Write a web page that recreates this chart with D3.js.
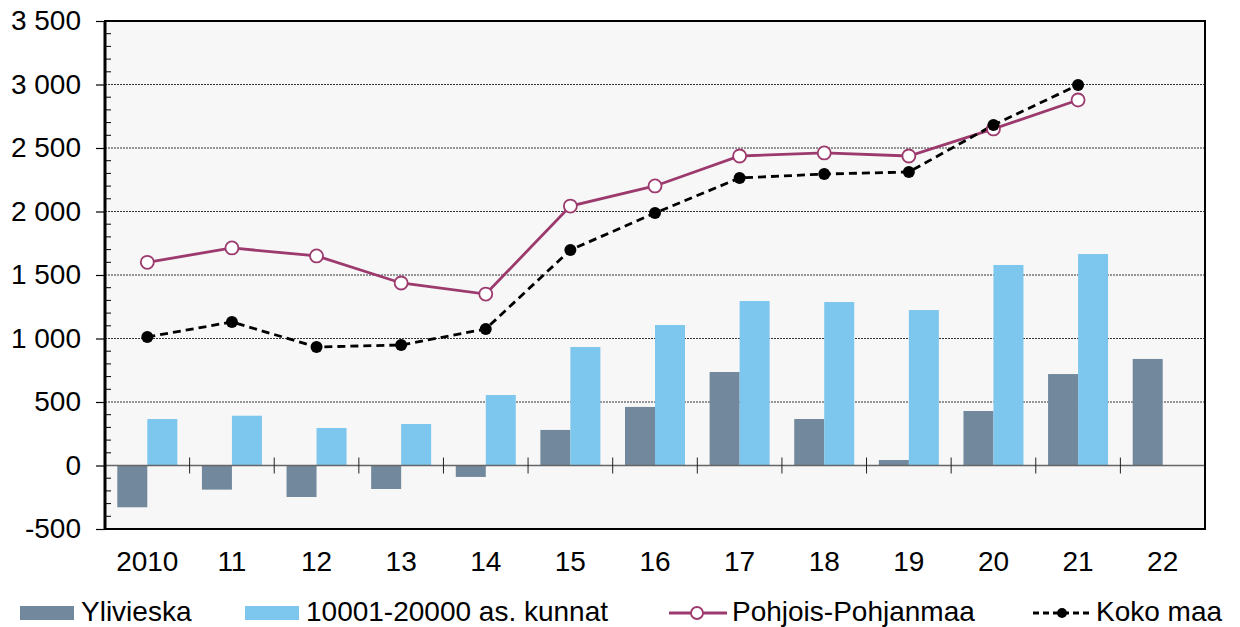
<!DOCTYPE html>
<meta charset="utf-8">
<style>
body { margin: 0; background: #fff; }
text { font-family: "Liberation Sans", Arial, sans-serif; fill: #000; }
</style>
<svg width="1240" height="627"></svg>
<script src="https://cdn.jsdelivr.net/npm/d3@7"></script>
<script>

var years = ["2010", "11", "12", "13", "14", "15", "16", "17", "18", "19", "20", "21", "22"];
var ylivieska = [-329, -190, -248, -185, -90, 280, 461, 736, 366, 43, 429, 720, 839];
var kunnat = [366, 392, 295, 327, 555, 933, 1106, 1295, 1287, 1224, 1579, 1665, null];
var pohjois = [1600, 1713, 1650, 1437, 1350, 2043, 2201, 2437, 2461, 2437, 2650, 2878, null];
var kokomaa = [1012, 1130, 933, 949, 1075, 1697, 1988, 2264, 2295, 2311, 2681, 2996, null];
var yTicks = [-500, 0, 500, 1000, 1500, 2000, 2500, 3000, 3500];

var svg = d3.select("svg");
var pLeft = 105, pRight = 1205, pTop = 21, pBottom = 529;
var fontSize = "28px";

var x = d3.scaleBand().domain(years).range([pLeft, pRight]);
var y = d3.scaleLinear().domain([-500, 3500]).range([pBottom, pTop]);
var fmt = d => d3.format(",")(d).replace(/,/g, " ").replace("\u2212", "-");

// plot background
svg.append("rect")
    .attr("x", pLeft).attr("y", pTop)
    .attr("width", pRight - pLeft).attr("height", pBottom - pTop)
    .attr("fill", "#f7f7f7");

// grid
svg.append("g").selectAll("line")
    .data(yTicks.filter(d => d > -500 && d < 3500 && d != 0))
    .enter().append("line")
      .attr("x1", pLeft).attr("x2", pRight)
      .attr("y1", d => y(d)).attr("y2", d => y(d))
      .attr("stroke", "#333").attr("stroke-width", 1)
      .attr("stroke-dasharray", "2,1");

// bars
var bw = 30;
svg.append("g").selectAll("rect")
    .data(ylivieska)
    .enter().append("rect")
      .attr("x", (d, i) => x(years[i]) + x.bandwidth() / 2 - bw)
      .attr("width", bw)
      .attr("y", d => y(Math.max(0, d)))
      .attr("height", d => Math.abs(y(d) - y(0)))
      .attr("fill", "#72889c");

svg.append("g").selectAll("rect")
    .data(kunnat.map((v, i) => ({v: v, i: i})).filter(d => d.v != null))
    .enter().append("rect")
      .attr("x", d => x(years[d.i]) + x.bandwidth() / 2)
      .attr("width", bw)
      .attr("y", d => y(Math.max(0, d.v)))
      .attr("height", d => Math.abs(y(d.v) - y(0)))
      .attr("fill", "#7dc6ee");

// zero line + category ticks
svg.append("line")
    .attr("x1", pLeft).attr("x2", pRight)
    .attr("y1", y(0)).attr("y2", y(0))
    .attr("stroke", "#666").attr("stroke-width", 1.5);

svg.append("g").selectAll("line")
    .data(years.slice(1))
    .enter().append("line")
      .attr("x1", d => x(d)).attr("x2", d => x(d))
      .attr("y1", y(0) - 8).attr("y2", y(0) + 8)
      .attr("stroke", "#222").attr("stroke-width", 1);

// y axis with major ticks outside, minor ticks inside
var yAxis = d3.axisLeft(y).tickValues(yTicks).tickSize(9).tickPadding(15).tickFormat(fmt);
var ga = svg.append("g").attr("transform", `translate(${pLeft},0)`).call(yAxis);
ga.select(".domain").remove();
ga.selectAll(".tick line").attr("stroke", "#000").attr("stroke-width", 1.2);
ga.selectAll(".tick text")
    .style("font-size", fontSize)
    .style("font-family", "'Liberation Sans', Arial, sans-serif")
    .attr("fill", "#000");

var minor = d3.range(-500, 3500, 100).filter(d => d % 500 != 0);
svg.append("g").selectAll("line")
    .data(minor)
    .enter().append("line")
      .attr("x1", pLeft).attr("x2", pLeft + 6)
      .attr("y1", d => y(d)).attr("y2", d => y(d))
      .attr("stroke", "#000").attr("stroke-width", 1);

// frame
svg.append("rect")
    .attr("x", pLeft).attr("y", pTop)
    .attr("width", pRight - pLeft).attr("height", pBottom - pTop)
    .attr("fill", "none").attr("stroke", "#000").attr("stroke-width", 2);
svg.append("line")
    .attr("x1", pLeft).attr("x2", pLeft)
    .attr("y1", pTop).attr("y2", pBottom)
    .attr("stroke", "#000").attr("stroke-width", 3);

// x labels
svg.append("g").selectAll("text")
    .data(years)
    .enter().append("text")
      .attr("x", d => x(d) + x.bandwidth() / 2)
      .attr("y", 571)
      .attr("text-anchor", "middle")
      .style("font-size", fontSize)
      .text(d => d);

// lines
var cx = i => x(years[i]) + x.bandwidth() / 2;
var line = d3.line()
    .defined(d => d != null)
    .x((d, i) => cx(i))
    .y(d => y(d));

svg.append("path")
    .datum(pohjois)
    .attr("d", line)
    .attr("fill", "none").attr("stroke", "#9c3a6e").attr("stroke-width", 2.8);

svg.append("path")
    .datum(kokomaa)
    .attr("d", line)
    .attr("fill", "none").attr("stroke", "#000").attr("stroke-width", 2.8)
    .attr("stroke-dasharray", "8,5");

svg.append("g").selectAll("circle")
    .data(pohjois.map((v, i) => ({v: v, i: i})).filter(d => d.v != null))
    .enter().append("circle")
      .attr("cx", d => cx(d.i)).attr("cy", d => y(d.v))
      .attr("r", 6.5)
      .attr("fill", "#fff").attr("stroke", "#9c3a6e").attr("stroke-width", 1.8);

svg.append("g").selectAll("circle")
    .data(kokomaa.map((v, i) => ({v: v, i: i})).filter(d => d.v != null))
    .enter().append("circle")
      .attr("cx", d => cx(d.i)).attr("cy", d => y(d.v))
      .attr("r", 6)
      .attr("fill", "#000");

// legend
var lg = svg.append("g").style("font-size", fontSize);
lg.append("rect").attr("x", 20).attr("y", 606).attr("width", 54).attr("height", 14).attr("fill", "#72889c");
lg.append("text").attr("x", 81).attr("y", 621).text("Ylivieska");
lg.append("rect").attr("x", 245).attr("y", 606).attr("width", 54).attr("height", 14).attr("fill", "#7dc6ee");
lg.append("text").attr("x", 306).attr("y", 621).text("10001-20000 as. kunnat");
lg.append("line").attr("x1", 669).attr("x2", 727).attr("y1", 613).attr("y2", 613)
    .attr("stroke", "#9c3a6e").attr("stroke-width", 2.8);
lg.append("circle").attr("cx", 697).attr("cy", 613).attr("r", 6)
    .attr("fill", "#fff").attr("stroke", "#9c3a6e").attr("stroke-width", 1.8);
lg.append("text").attr("x", 732).attr("y", 621).text("Pohjois-Pohjanmaa");
lg.append("line").attr("x1", 1033).attr("x2", 1092).attr("y1", 613).attr("y2", 613)
    .attr("stroke", "#000").attr("stroke-width", 2.8).attr("stroke-dasharray", "6,4");
lg.append("circle").attr("cx", 1062).attr("cy", 613).attr("r", 5).attr("fill", "#000");
lg.append("text").attr("x", 1096).attr("y", 621).text("Koko maa");

</script>
